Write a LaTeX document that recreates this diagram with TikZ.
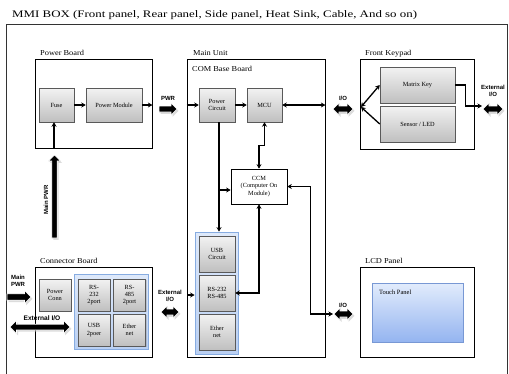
\documentclass[tikz,border=0pt]{standalone}
\usepackage{fontspec}
\usepackage{graphicx}
\setmainfont{Liberation Serif}
\newfontfamily\arialb{Liberation Sans}
\usetikzlibrary{arrows.meta,shadows}
\definecolor{grpTop}{RGB}{222,233,250}
\definecolor{grpBot}{RGB}{186,208,243}
\definecolor{grpLine}{RGB}{135,172,225}
\definecolor{tpTop}{RGB}{226,236,252}
\definecolor{tpBot}{RGB}{148,180,240}
\definecolor{tpLine}{RGB}{120,152,212}
% block arrows: single right, double horizontal, single up
\newcommand\rblock[5]{% x1 x2 y headhalf shafthalf
  \fill[gray!45,opacity=0.6,shift={(1.5,1.8)}] (#1,#3-#5) -- (#2-#4,#3-#5) -- (#2-#4,#3-#4) -- (#2,#3) -- (#2-#4,#3+#4) -- (#2-#4,#3+#5) -- (#1,#3+#5) -- cycle;
  \filldraw[fill=black,draw=white,line width=0.6pt] (#1,#3-#5) -- (#2-#4,#3-#5) -- (#2-#4,#3-#4) -- (#2,#3) -- (#2-#4,#3+#4) -- (#2-#4,#3+#5) -- (#1,#3+#5) -- cycle;}
\newcommand\dblock[5]{% x1 x2 y headhalf shafthalf
  \fill[gray!45,opacity=0.6,shift={(1.5,1.8)}] (#1,#3) -- (#1+#4,#3-#4) -- (#1+#4,#3-#5) -- (#2-#4,#3-#5) -- (#2-#4,#3-#4) -- (#2,#3) -- (#2-#4,#3+#4) -- (#2-#4,#3+#5) -- (#1+#4,#3+#5) -- (#1+#4,#3+#4) -- cycle;
  \filldraw[fill=black,draw=white,line width=0.6pt] (#1,#3) -- (#1+#4,#3-#4) -- (#1+#4,#3-#5) -- (#2-#4,#3-#5) -- (#2-#4,#3-#4) -- (#2,#3) -- (#2-#4,#3+#4) -- (#2-#4,#3+#5) -- (#1+#4,#3+#5) -- (#1+#4,#3+#4) -- cycle;}
\newcommand\ublock[5]{% x y1(bottom) y2(tip) headhalf shafthalf
  \fill[gray!45,opacity=0.6,shift={(1.5,1.8)}] (#1-#5,#2) -- (#1-#5,#3+#4) -- (#1-#4,#3+#4) -- (#1,#3) -- (#1+#4,#3+#4) -- (#1+#5,#3+#4) -- (#1+#5,#2) -- cycle;
  \filldraw[fill=black,draw=white,line width=0.6pt] (#1-#5,#2) -- (#1-#5,#3+#4) -- (#1-#4,#3+#4) -- (#1,#3) -- (#1+#4,#3+#4) -- (#1+#5,#3+#4) -- (#1+#5,#2) -- cycle;}
\begin{document}
\begin{tikzpicture}[x=1pt,y=-1pt,
  frame/.style={draw=black, line width=0.8pt, fill=white, inner sep=0pt},
  gbox/.style={draw=black!65, line width=0.5pt, top color=gray!10, bottom color=gray!50,
     drop shadow={opacity=0.3,shadow xshift=1pt,shadow yshift=-1.2pt},
     font=\fontsize{6.3}{7.3}\selectfont, align=center, inner sep=0pt},
  wbox/.style={draw=black, line width=0.7pt, fill=white,
     font=\fontsize{6.3}{7.3}\selectfont, align=center, inner sep=0pt},
  bgrp/.style={draw=grpLine, line width=0.8pt, top color=grpTop, bottom color=grpBot, inner sep=0pt},
  lbl/.style={font=\fontsize{7.6}{9}\selectfont, anchor=base west, inner sep=0pt},
  albl/.style={font=\arialb\bfseries\fontsize{6}{6.6}\selectfont, align=center, inner sep=0pt},
  conn/.style={line width=1.3pt, -{Stealth[length=4.5pt,width=5pt]}},
  conn2/.style={line width=1.3pt, {Stealth[length=4.5pt,width=5pt]}-{Stealth[length=4.5pt,width=5pt]}}]
\clip (0,0) rectangle (509,373);
\fill[white] (0,0) rectangle (509,373);
% title and outer box
\node[anchor=base west, inner sep=0pt, font=\fontsize{10}{11}\selectfont] (title) at (12,17.5)
  {\scalebox{1.29}[1]{MMI BOX (Front panel, Rear panel, Side panel, Heat Sink, Cable, And so on)}};
\draw[line width=0.7pt, black!80] (6,380) -- (6,24) -- (507,24) -- (507,380);
% frames
\node[frame, minimum width=117pt, minimum height=89pt] (pb) at (93.5,103.5) {};
\node[frame, minimum width=138pt, minimum height=298pt] (mu) at (256,208) {};
\node[frame, minimum width=114pt, minimum height=90pt] (kp) at (417,104) {};
\node[frame, minimum width=117pt, minimum height=90pt] (cb) at (93.5,312) {};
\node[frame, minimum width=114pt, minimum height=90pt] (lcd) at (417,312) {};
\node[lbl] (pbl) at (40,55) {\scalebox{1.1}[1]{Power Board}};
\node[lbl] (mul) at (193,55) {\scalebox{1.1}[1]{Main Unit}};
\node[lbl] (cbb) at (192,71) {\scalebox{1.1}[1]{COM Base Board}};
\node[lbl] (kpl) at (365,55) {\scalebox{1.1}[1]{Front Keypad}};
\node[lbl] (cbl) at (40,263) {\scalebox{1.1}[1]{Connector Board}};
\node[lbl] (lcdl) at (365,263) {\scalebox{1.1}[1]{LCD Panel}};
% power board
\node[gbox, minimum width=35pt, minimum height=34pt] (fuse) at (56.5,105) {Fuse};
\node[gbox, minimum width=56pt, minimum height=34pt] (pmod) at (114,105) {Power Module};
% main unit
\node[gbox, minimum width=36pt, minimum height=34pt] (pcirc) at (217,105) {Power\\Circuit};
\node[gbox, minimum width=35pt, minimum height=34pt] (mcu) at (264.5,105) {MCU};
\node[wbox, minimum width=56pt, minimum height=35pt] (ccm) at (259,186.5) {CCM\\(Computer On\\Module)};
\node[bgrp, minimum width=43pt, minimum height=122pt] (usbgrp) at (216.5,293) {};
\node[gbox, minimum width=36pt, minimum height=36pt] (usbc) at (217,254) {USB\\Circuit};
\node[gbox, minimum width=36pt, minimum height=36pt] (rs) at (217,293) {RS-232\\RS-485};
\node[gbox, minimum width=36pt, minimum height=36pt] (eth) at (217,332) {Ether\\net};
% keypad
\node[gbox, minimum width=75pt, minimum height=36pt] (mkey) at (417.5,85) {Matrix Key};
\node[gbox, minimum width=75pt, minimum height=36pt] (sled) at (417.5,124) {Sensor / LED};
% connector board
\node[gbox, minimum width=32pt, minimum height=32pt] (pconn) at (55,295) {Power\\Conn};
\node[bgrp, minimum width=74pt, minimum height=75pt] (cgrp) at (111,311.5) {};
\node[gbox, minimum width=32pt, minimum height=32pt] (rs232) at (94,295) {RS-\\232\\2port};
\node[gbox, minimum width=32pt, minimum height=32pt] (rs485) at (129.5,295) {RS-\\485\\2port};
\node[gbox, minimum width=32pt, minimum height=32pt] (usb2) at (94,330) {USB\\2poer};
\node[gbox, minimum width=32pt, minimum height=32pt] (eth2) at (129.5,330) {Ether\\net};
% lcd
\node[draw=tpLine, line width=0.6pt, top color=tpTop, bottom color=tpBot,
  drop shadow={opacity=0.2,shadow xshift=1pt,shadow yshift=-1pt},
  minimum width=91pt, minimum height=59pt, inner sep=0pt] (touch) at (417.5,312.5) {};
\node[lbl, font=\fontsize{6.5}{7.5}\selectfont] (touchl) at (379,294) {Touch Panel};
% connectors
\coordinate (fin) at (54,148);
\draw[conn] (fin) -- (fin |- fuse.south);
\draw[conn] (fuse.east) -- (pmod.west);
\draw[conn] (pmod.east) -- (pmod.east -| pb.east);
\draw[conn] (pcirc.west -| mu.west) -- (pcirc.west);
\draw[conn] (pcirc.east) -- (mcu.west);
\draw[conn2] (mcu.east) -- (mcu.east -| mu.east);
\coordinate (pcd) at (219,122);
\draw[conn] (pcd) -- (pcd |- usbgrp.north);
\coordinate (br) at (219,190);
\draw[conn] (br) -- (br -| ccm.west);
\draw[conn2] (mcu.south) -- ++(0,23) -| (ccm.north);
\draw[conn2] (ccm.south) |- (rs.east);
\coordinate (io2) at (333,314);
\draw[conn2] (ccm.east) -- ++(23,0) |- (io2);
\coordinate (ex1) at (188,295);
\draw[conn] (ex1) -- (ex1 -| usbgrp.west);
\coordinate (kpin) at (361,107);
\draw[conn2] (kpin) -- (mkey.west);
\draw[conn] (sled.west) -- (kpin);
\coordinate (ext1) at (482,106);
\draw[conn] (mkey.east) -- ++(10,0) |- (ext1);
% block arrows
\rblock{159}{177}{109}{6}{3}
\node[albl] (pwrl) at (168,98) {PWR};
\dblock{333}{353}{109}{6}{3}
\node[albl] (io1l) at (343,98) {I/O};
\dblock{483}{503}{109}{6}{3}
\node[albl] (ext1l) at (493,91) {External\\I/O};
\ublock{54.5}{238}{155}{6}{2.7}
\node[albl, rotate=90] (mpwrl) at (46,200) {Main PWR};
\dblock{334}{353}{314}{6}{3}
\node[albl] (io2l) at (343,305) {I/O};
\dblock{161}{179}{312}{6}{3}
\node[albl] (ext2l) at (170,296) {External\\I/O};
\rblock{7}{31}{297}{6.5}{3.2}
\node[albl] (mpwr2l) at (18,281) {Main\\PWR};
\dblock{10}{70}{327}{6.5}{2.8}
\node[albl, font=\arialb\bfseries\fontsize{6.6}{7}\selectfont] (ext3l) at (42,318) {External I/O};
\end{tikzpicture}
\end{document}
